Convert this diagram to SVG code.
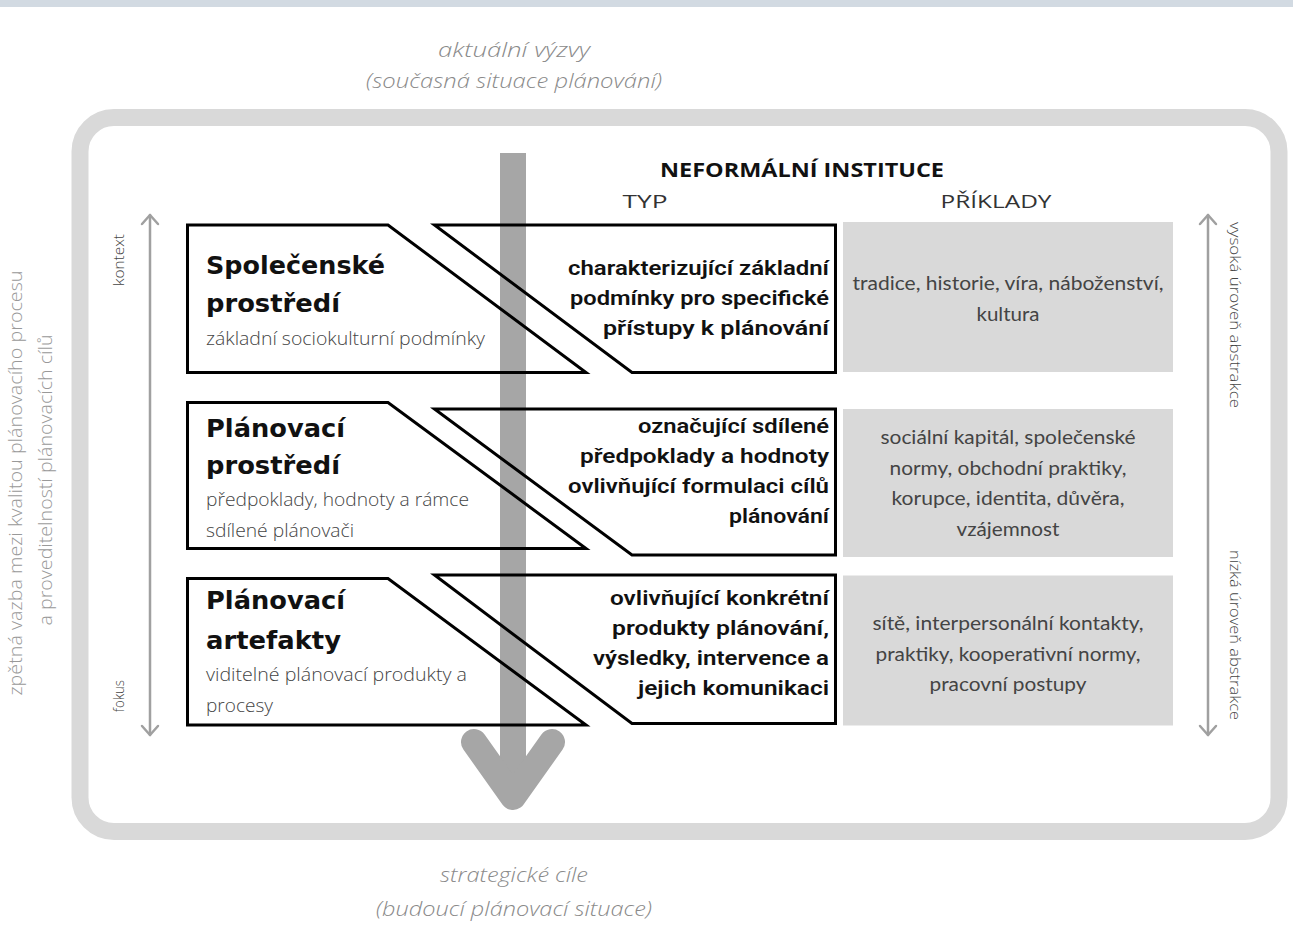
<svg xmlns="http://www.w3.org/2000/svg" width="1293" height="940" viewBox="0 0 1293 940">
<defs>
<style>
.title{font-family:"DejaVu Sans",sans-serif;font-weight:bold;font-size:25px;fill:#111}
.sub{font-family:"Open Sans",sans-serif;font-weight:300;font-size:19px;fill:#444}
.typ{font-family:Roboto,"Open Sans",sans-serif;font-weight:600;font-size:21px;fill:#111;text-anchor:end}
.ex{font-family:Lato,"Open Sans",sans-serif;font-size:18.5px;fill:#444;text-anchor:middle}
.ital{font-family:"Open Sans",sans-serif;font-style:italic;font-weight:300;font-size:20px;fill:#8a8a8a;text-anchor:middle}
.hdr{font-family:"Open Sans",sans-serif;font-size:19px;fill:#333;text-anchor:middle}
.side{font-family:"Open Sans",sans-serif;font-weight:300;font-size:19px;fill:#999;text-anchor:middle}
.small{font-family:"Open Sans",sans-serif;font-weight:300;font-size:15px;fill:#444}
.box{fill:none;stroke:#000;stroke-width:3;stroke-linejoin:miter}
.gbox{fill:#d9d9d9}
.dbl{fill:none;stroke:#a0a0a0;stroke-width:2.5;stroke-linecap:round;stroke-linejoin:round}
</style>
</defs>
<rect x="0" y="0" width="1293" height="940" fill="#fff"/>
<rect x="0" y="0" width="1293" height="7" fill="#d2dae2"/>
<g id="frame">
<rect x="80" y="117.5" width="1199" height="714" rx="34" ry="34" fill="none" stroke="#d9d9d9" stroke-width="17"/>
</g>
<g id="top-label">
<text class="ital" x="514" y="57" textLength="152" lengthAdjust="spacingAndGlyphs">aktuální výzvy</text>
<text class="ital" x="514" y="88" textLength="296" lengthAdjust="spacingAndGlyphs">(současná situace plánování)</text>
</g>
<g id="bottom-label">
<text class="ital" x="514" y="882" textLength="148" lengthAdjust="spacingAndGlyphs">strategické cíle</text>
<text class="ital" x="514" y="916" textLength="276" lengthAdjust="spacingAndGlyphs">(budoucí plánovací situace)</text>
</g>
<g id="connectors">
<rect x="500" y="153" width="26" height="642" fill="#a6a6a6"/>
<polyline points="474,742 513,797 552,742" fill="none" stroke="#a6a6a6" stroke-width="26" stroke-linecap="round" stroke-linejoin="round"/>
<line class="dbl" x1="150" y1="215" x2="150" y2="735"/>
<polyline class="dbl" points="142,224 150,215 158,224"/>
<polyline class="dbl" points="142,726 150,735 158,726"/>
<line class="dbl" x1="1208" y1="215" x2="1208" y2="735"/>
<polyline class="dbl" points="1200,224 1208,215 1216,224"/>
<polyline class="dbl" points="1200,726 1208,735 1216,726"/>
</g>
<g id="side-labels">
<text class="side" transform="translate(22,483) rotate(-90)" textLength="425" lengthAdjust="spacingAndGlyphs">zpětná vazba mezi kvalitou plánovacího procesu</text>
<text class="side" transform="translate(52,480) rotate(-90)" textLength="291" lengthAdjust="spacingAndGlyphs">a proveditelností plánovacích cílů</text>
<text class="small" transform="translate(124,286) rotate(-90)" textLength="52" lengthAdjust="spacingAndGlyphs">kontext</text>
<text class="small" transform="translate(124,712) rotate(-90)" textLength="32" lengthAdjust="spacingAndGlyphs">fokus</text>
<text class="small" transform="translate(1230,222) rotate(90)" textLength="186" lengthAdjust="spacingAndGlyphs">vysoká úroveň abstrakce</text>
<text class="small" transform="translate(1230,720) rotate(90)" text-anchor="end" textLength="170" lengthAdjust="spacingAndGlyphs">nízká úroveň abstrakce</text>
</g>
<g id="headers">
<text x="802" y="177" font-family="Open Sans, sans-serif" font-weight="bold" font-size="19" fill="#111" text-anchor="middle" textLength="284" lengthAdjust="spacingAndGlyphs">NEFORMÁLNÍ INSTITUCE</text>
<text class="hdr" x="645" y="208" textLength="45" lengthAdjust="spacingAndGlyphs">TYP</text>
<text class="hdr" x="996" y="208" textLength="111" lengthAdjust="spacingAndGlyphs">PŘÍKLADY</text>
</g>
<g id="node-spolecenske">
<polygon class="box" points="187.5,225 388,225 586,372.5 187.5,372.5"/>
<text class="title" x="206" y="274" textLength="179" lengthAdjust="spacingAndGlyphs">Společenské</text>
<text class="title" x="206" y="312" textLength="134" lengthAdjust="spacingAndGlyphs">prostředí</text>
<text class="sub" x="206" y="345" textLength="279" lengthAdjust="spacingAndGlyphs">základní sociokulturní podmínky</text>
</g>
<g id="node-typ1">
<polygon class="box" points="434.5,225 835.5,225 835.5,372.5 632,372.5"/>
<text class="typ" x="829" y="275" textLength="261" lengthAdjust="spacingAndGlyphs">charakterizující základní</text>
<text class="typ" x="829" y="305" textLength="259" lengthAdjust="spacingAndGlyphs">podmínky pro specifické</text>
<text class="typ" x="829" y="335" textLength="226" lengthAdjust="spacingAndGlyphs">přístupy k plánování</text>
</g>
<g id="node-priklady1">
<rect class="gbox" x="843" y="222" width="330" height="150"/>
<text class="ex" x="1008" y="290" textLength="311" lengthAdjust="spacingAndGlyphs">tradice, historie, víra, náboženství,</text>
<text class="ex" x="1008" y="321" textLength="63" lengthAdjust="spacingAndGlyphs">kultura</text>
</g>
<g id="node-planovaci-prostredi">
<polygon class="box" points="187.5,402.5 388,402.5 586,548.5 187.5,548.5"/>
<text class="title" x="206" y="437" textLength="139" lengthAdjust="spacingAndGlyphs">Plánovací</text>
<text class="title" x="206" y="474" textLength="134" lengthAdjust="spacingAndGlyphs">prostředí</text>
<text class="sub" x="206" y="506" textLength="263" lengthAdjust="spacingAndGlyphs">předpoklady, hodnoty a rámce</text>
<text class="sub" x="206" y="537" textLength="148" lengthAdjust="spacingAndGlyphs">sdílené plánovači</text>
</g>
<g id="node-typ2">
<polygon class="box" points="434.5,409 835.5,409 835.5,555 632,555"/>
<text class="typ" x="829" y="433" textLength="191" lengthAdjust="spacingAndGlyphs">označující sdílené</text>
<text class="typ" x="829" y="463" textLength="249" lengthAdjust="spacingAndGlyphs">předpoklady a hodnoty</text>
<text class="typ" x="829" y="493" textLength="261" lengthAdjust="spacingAndGlyphs">ovlivňující formulaci cílů</text>
<text class="typ" x="829" y="523" textLength="100" lengthAdjust="spacingAndGlyphs">plánování</text>
</g>
<g id="node-priklady2">
<rect class="gbox" x="843" y="409" width="330" height="148"/>
<text class="ex" x="1008" y="444" textLength="255" lengthAdjust="spacingAndGlyphs">sociální kapitál, společenské</text>
<text class="ex" x="1008" y="475" textLength="237" lengthAdjust="spacingAndGlyphs">normy, obchodní praktiky,</text>
<text class="ex" x="1008" y="505" textLength="233" lengthAdjust="spacingAndGlyphs">korupce, identita, důvěra,</text>
<text class="ex" x="1008" y="536" textLength="103" lengthAdjust="spacingAndGlyphs">vzájemnost</text>
</g>
<g id="node-planovaci-artefakty">
<polygon class="box" points="187.5,578.5 388,578.5 586,725 187.5,725"/>
<text class="title" x="206" y="609" textLength="139" lengthAdjust="spacingAndGlyphs">Plánovací</text>
<text class="title" x="206" y="649" textLength="135" lengthAdjust="spacingAndGlyphs">artefakty</text>
<text class="sub" x="206" y="681" textLength="261" lengthAdjust="spacingAndGlyphs">viditelné plánovací produkty a</text>
<text class="sub" x="206" y="712" textLength="67" lengthAdjust="spacingAndGlyphs">procesy</text>
</g>
<g id="node-typ3">
<polygon class="box" points="434.5,575 835.5,575 835.5,723.5 632,723.5"/>
<text class="typ" x="829" y="605" textLength="219" lengthAdjust="spacingAndGlyphs">ovlivňující konkrétní</text>
<text class="typ" x="829" y="635" textLength="217" lengthAdjust="spacingAndGlyphs">produkty plánování,</text>
<text class="typ" x="829" y="665" textLength="236" lengthAdjust="spacingAndGlyphs">výsledky, intervence a</text>
<text class="typ" x="829" y="695" textLength="191" lengthAdjust="spacingAndGlyphs">jejich komunikaci</text>
</g>
<g id="node-priklady3">
<rect class="gbox" x="843" y="575.5" width="330" height="150"/>
<text class="ex" x="1008" y="630" textLength="271" lengthAdjust="spacingAndGlyphs">sítě, interpersonální kontakty,</text>
<text class="ex" x="1008" y="661" textLength="265" lengthAdjust="spacingAndGlyphs">praktiky, kooperativní normy,</text>
<text class="ex" x="1008" y="691" textLength="157" lengthAdjust="spacingAndGlyphs">pracovní postupy</text>
</g>
</svg>
